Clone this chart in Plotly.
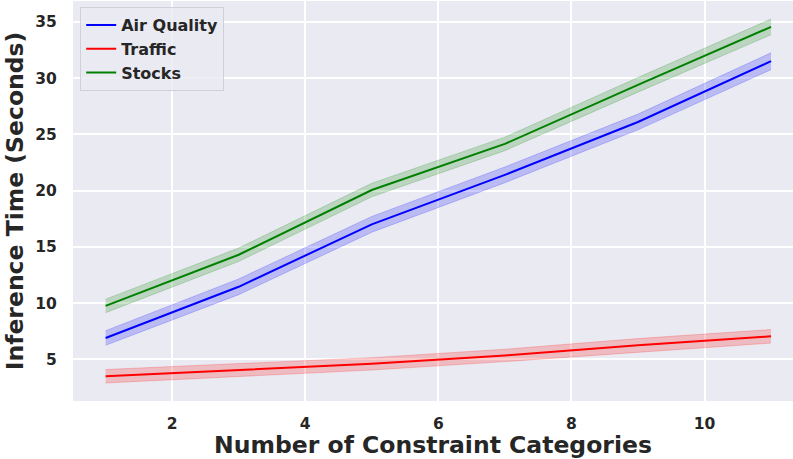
import plotly.graph_objects as go

x_vals = [1, 3, 5, 7, 9, 11]

air_quality = [6.9, 11.45, 17.0, 21.4, 26.1, 31.5]
air_quality_lo = [6.25, 10.75, 16.3, 20.7, 25.4, 30.75]
air_quality_hi = [7.55, 12.15, 17.7, 22.1, 26.8, 32.25]

traffic = [3.5, 4.05, 4.6, 5.35, 6.25, 7.05]
traffic_lo = [2.9, 3.5, 4.05, 4.8, 5.65, 6.45]
traffic_hi = [4.1, 4.6, 5.15, 5.9, 6.85, 7.65]

stocks = [9.75, 14.3, 20.05, 24.15, 29.4, 34.55]
stocks_lo = [9.15, 13.7, 19.45, 23.55, 28.75, 33.85]
stocks_hi = [10.35, 14.9, 20.65, 24.75, 30.05, 35.25]

x_ticks = [2, 4, 6, 8, 10]
y_ticks = [5, 10, 15, 20, 25, 30, 35]

series = [
    ("Air Quality", air_quality, air_quality_lo, air_quality_hi, "#0000ff", "rgba(0,0,255,0.2)"),
    ("Traffic", traffic, traffic_lo, traffic_hi, "#ff0000", "rgba(255,0,0,0.2)"),
    ("Stocks", stocks, stocks_lo, stocks_hi, "#008000", "rgba(0,128,0,0.2)"),
]

fig = go.Figure()
for name, mid, lo, hi, col, fillc in series:
    fig.add_trace(go.Scatter(x=x_vals, y=lo, mode="lines", line=dict(color=fillc, width=1),
                             showlegend=False, hoverinfo="skip"))
    fig.add_trace(go.Scatter(x=x_vals, y=hi, mode="lines", line=dict(color=fillc, width=1),
                             fill="tonexty", fillcolor=fillc, showlegend=False, hoverinfo="skip"))
for name, mid, lo, hi, col, fillc in series:
    fig.add_trace(go.Scatter(x=x_vals, y=mid, mode="lines", name=name,
                             line=dict(color=col, width=2)))

font_family = "DejaVu Sans"
text_col = "#262626"

fig.update_layout(
    width=793, height=459,
    margin=dict(l=73, r=0, t=1, b=58),
    paper_bgcolor="white",
    plot_bgcolor="#EAEAF2",
    font=dict(family=font_family, color=text_col),
    legend=dict(
        x=0.01, y=0.985, xanchor="left", yanchor="top", traceorder="normal",
        bgcolor="rgba(234,234,242,0.8)", bordercolor="#d0d0d8", borderwidth=1,
        font=dict(family=font_family, size=16, color=text_col, weight="bold"),
        tracegroupgap=0, itemwidth=30,
    ),
    xaxis=dict(
        range=[0.51, 11.33], tickvals=x_ticks, ticktext=[str(v) for v in x_ticks],
        showgrid=True, gridcolor="white", gridwidth=1.5, zeroline=False,
        ticks="outside", ticklen=8, tickcolor="rgba(0,0,0,0)", automargin=False,
        tickfont=dict(family=font_family, size=15.5, color=text_col, weight="bold"),
        title=dict(text="Number of Constraint Categories", standoff=6,
                   font=dict(family=font_family, size=23.5, color=text_col, weight="bold")),
        showline=False,
    ),
    yaxis=dict(
        range=[1.3, 36.85], tickvals=y_ticks, ticktext=[str(v) for v in y_ticks],
        showgrid=True, gridcolor="white", gridwidth=1.5, zeroline=False,
        ticks="outside", ticklen=12, tickcolor="rgba(0,0,0,0)", automargin=False,
        tickfont=dict(family=font_family, size=15.5, color=text_col, weight="bold"),
        title=dict(text="Inference Time (Seconds)", standoff=5,
                   font=dict(family=font_family, size=23.5, color=text_col, weight="bold")),
        showline=False,
    ),
)

fig.write_html(
    "out.html",
    config={"displayModeBar": False},
    post_script="document.body.style.margin='0';document.body.style.overflow='hidden';",
)
